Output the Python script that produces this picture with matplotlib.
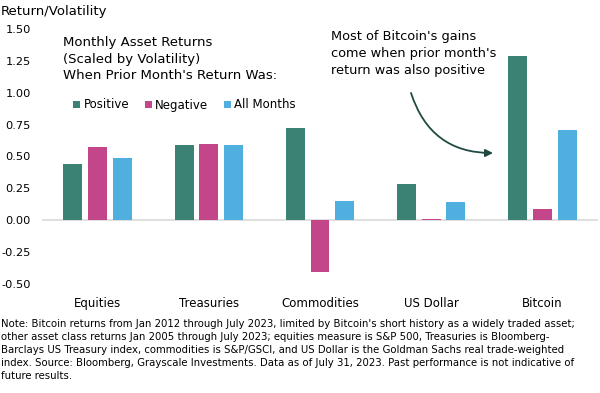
import numpy as np
import matplotlib.pyplot as plt

categories = ["Equities", "Treasuries", "Commodities", "US Dollar", "Bitcoin"]
positive = [0.44, 0.59, 0.72, 0.28, 1.29]
negative = [0.57, 0.60, -0.41, 0.01, 0.085]
all_months = [0.49, 0.59, 0.15, 0.14, 0.71]
series_names = ["Positive", "Negative", "All Months"]
colors = ["#3b8274", "#c4468a", "#51afe0"]
yticks = [-0.50, -0.25, 0.00, 0.25, 0.50, 0.75, 1.00, 1.25, 1.50]

note = ("Note: Bitcoin returns from Jan 2012 through July 2023, limited by Bitcoin's short history as a widely traded asset;\n"
        "other asset class returns Jan 2005 through July 2023; equities measure is S&P 500, Treasuries is Bloomberg-\n"
        "Barclays US Treasury index, commodities is S&P/GSCI, and US Dollar is the Goldman Sachs real trade-weighted\n"
        "index. Source: Bloomberg, Grayscale Investments. Data as of July 31, 2023. Past performance is not indicative of\n"
        "future results.")

plt.rcParams["font.family"] = "DejaVu Sans"
W, H = 600, 393
fig = plt.figure(figsize=(W / 100, H / 100), dpi=100)

# axes placed in pixel terms
ax = fig.add_axes([42 / W, 1 - 290 / H, 556 / W, (290 - 22.8) / H])

x = np.arange(len(categories))
width = 0.17
step = 0.222
handles = []
for i, vals in enumerate([positive, negative, all_months]):
    b = ax.bar(x + (i - 1) * step, vals, width, color=colors[i], label=series_names[i], zorder=3)
    handles.append(b)

ax.axhline(0, color="#d9d9d9", lw=1.2, zorder=2)
ax.set_xlim(-0.5, len(categories) - 0.5)
ax.set_ylim(-0.55, 1.55)
ax.set_yticks(yticks)
ax.set_yticklabels(["%.2f" % v for v in yticks], fontsize=8.2)
ax.set_xticks(x)
ax.set_xticklabels(categories, fontsize=8.5)
ax.tick_params(axis="both", length=0, colors="black")
ax.tick_params(axis="y", pad=8)
ax.tick_params(axis="x", pad=5)
for s in ax.spines.values():
    s.set_visible(False)

fig.text(1 / W, 1 - 12 / H, "Return/Volatility", fontsize=9.5, va="center", ha="left")

fig.text(63 / W, 1 - 36 / H, "Monthly Asset Returns\n(Scaled by Volatility)\nWhen Prior Month's Return Was:",
         fontsize=9.5, va="top", ha="left", linespacing=1.35)

leg = ax.legend(handles=handles, loc="center left", bbox_to_anchor=(73 / W, 1 - 105 / H),
                bbox_transform=fig.transFigure, ncol=3, frameon=False, fontsize=8.5,
                handlelength=0.6, handleheight=0.6, handletextpad=0.3, columnspacing=1.3,
                borderaxespad=0, borderpad=0)

fig.text(331 / W, 1 - 30 / H, "Most of Bitcoin's gains\ncome when prior month's\nreturn was also positive",
         fontsize=9.3, va="top", ha="left", linespacing=1.42)

ax.annotate("", xy=(493 / W, 1 - 153 / H), xytext=(411 / W, 1 - 93 / H),
            xycoords="figure fraction", textcoords="figure fraction",
            arrowprops=dict(arrowstyle="-|>", color="#1f4a42", lw=1.3, mutation_scale=11,
                            connectionstyle="angle3,angleA=-72,angleB=0", shrinkA=0, shrinkB=0))

fig.text(1 / W, 1 - 319 / H, note, fontsize=7.3, va="top", ha="left", linespacing=1.37)

fig.savefig("out.png", dpi=100)
